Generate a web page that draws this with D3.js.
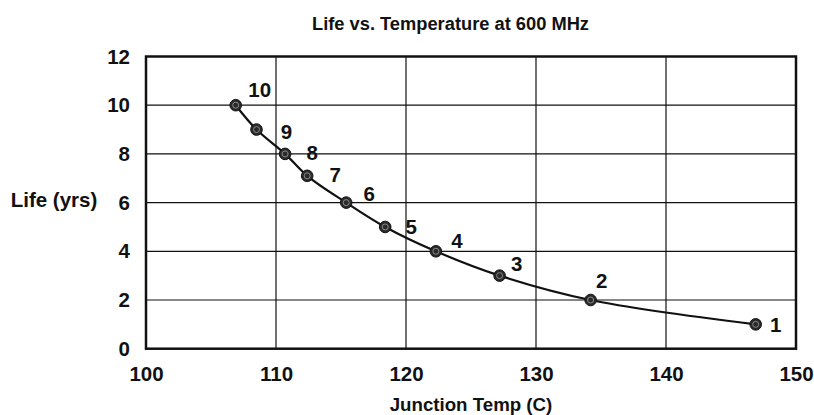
<!DOCTYPE html>
<html><head><meta charset="utf-8">
<script src="https://cdn.jsdelivr.net/npm/d3@7"></script>
<style>body{margin:0;background:#fff}svg{display:block}text{font-family:"Liberation Sans",Arial,sans-serif;font-weight:bold;fill:#111}</style>
</head><body><svg id="c" width="814" height="415"></svg>
<script>
const pointLabels = ["10","9","8","7","6","5","4","3","2","1"];
const temps = [106.9,108.5,110.7,112.4,115.4,118.4,122.3,127.2,134.2,146.9];
const life  = [10,9,8,7.1,6,5,4,3,2,1];
const xTicks = [100,110,120,130,140,150];
const yTicks = [0,2,4,6,8,10,12];
const title = "Life vs. Temperature at 600 MHz";
const xTitle = "Junction Temp (C)";
const yTitle = "Life (yrs)";
// label placement (pixels, relative to marker)
const labelDx = [24,30,27,28,23,26,21,17,11,20];
const labelDy = [-15.5,2.5,-0.7,-0.7,-8.5,0,-10,-12,-19,0];

const svg = d3.select("#c");
const m = {l:146, r:796, t:56.5, b:348.7};
const x = d3.scaleLinear().domain([100,150]).range([m.l,m.r]);
const y = d3.scaleLinear().domain([0,12]).range([m.b,m.t]);
const FS = 20.5;

const g = svg.append("g");
g.selectAll(".gx").data(xTicks.slice(1,-1)).join("line")
 .attr("x1",d=>x(d)).attr("x2",d=>x(d)).attr("y1",m.t).attr("y2",m.b)
 .attr("stroke","#111").attr("stroke-width",1.2);
g.selectAll(".gy").data(yTicks.slice(1,-1)).join("line")
 .attr("y1",d=>y(d)).attr("y2",d=>y(d)).attr("x1",m.l).attr("x2",m.r)
 .attr("stroke","#111").attr("stroke-width",1.2);
g.append("rect").attr("x",m.l).attr("y",m.t).attr("width",m.r-m.l).attr("height",m.b-m.t)
 .attr("fill","none").attr("stroke","#111").attr("stroke-width",2.5);

const xa = svg.append("g").attr("transform",`translate(0,${m.b})`)
 .call(d3.axisBottom(x).tickValues(xTicks).tickSize(0).tickPadding(17.5));
xa.select(".domain").remove();
xa.selectAll("text").attr("font-size",FS).style("font-family","Liberation Sans, Arial").style("font-weight","bold").attr("fill","#111");
const ya = svg.append("g").attr("transform",`translate(${m.l},0)`)
 .call(d3.axisLeft(y).tickValues(yTicks).tickSize(0).tickPadding(16));
ya.select(".domain").remove();
ya.selectAll("text").attr("font-size",FS).style("font-family","Liberation Sans, Arial").style("font-weight","bold").attr("fill","#111");

const pts = temps.map((t,i)=>({t, v:life[i], lab:pointLabels[i], dx:labelDx[i], dy:labelDy[i]}));
svg.append("path").datum(pts)
 .attr("d", d3.line().x(d=>x(d.t)).y(d=>y(d.v)).curve(d3.curveCatmullRom))
 .attr("fill","none").attr("stroke","#111").attr("stroke-width",2.2);
const mk = svg.selectAll(".mk").data(pts).join("g").attr("transform",d=>`translate(${x(d.t)},${y(d.v)})`);
mk.append("circle").attr("r",5.8).attr("fill","#2a2a2a").attr("stroke","#111").attr("stroke-width",1);
mk.append("circle").attr("r",3).attr("fill","none").attr("stroke","#8a8a8a").attr("stroke-width",1);
svg.selectAll(".pl").data(pts).join("text")
 .attr("x",d=>x(d.t)+d.dx).attr("y",d=>y(d.v)+d.dy).attr("dy","0.35em")
 .attr("text-anchor","middle").attr("font-size",FS).text(d=>d.lab);

svg.append("text").attr("x",450.5).attr("y",30).attr("text-anchor","middle").attr("font-size",18.3).text(title);
svg.append("text").attr("x",(m.l+m.r)/2).attr("y",411).attr("text-anchor","middle").attr("font-size",18.7).text(xTitle);
svg.append("text").attr("x",54).attr("y",206.5).attr("text-anchor","middle").attr("font-size",20.5).text(yTitle);
</script></body></html>
